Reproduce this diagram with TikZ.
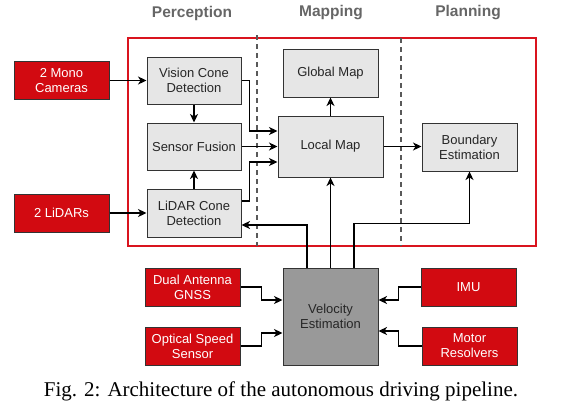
\documentclass[tikz,border=0pt]{standalone}
\usepackage{fontspec}
\setmainfont{Liberation Sans}
\newfontfamily\capfont{Liberation Serif}
\usetikzlibrary{arrows.meta}
\definecolor{boxred}{HTML}{D20A11}
\definecolor{framered}{HTML}{D9141E}
\definecolor{boxgray}{HTML}{E6E6E6}
\definecolor{velgray}{HTML}{999999}
\definecolor{headgray}{HTML}{666666}
\tikzset{
  blk/.style={draw=black!80, line width=1pt, minimum width=95pt, minimum height=47pt,
    align=center, font=\fontsize{13}{15}\selectfont, inner sep=1pt},
  grayblk/.style={blk, fill=boxgray, text=black!85},
  redblk/.style={blk, fill=boxred, text=white, minimum height=38pt},
  velblk/.style={blk, fill=velgray, text=black!85},
  conn/.style={line width=1.8pt, -{Stealth[length=8.5pt,width=8pt,inset=2.5pt]}},
  sep/.style={draw=black!65, line width=1.2pt, dash pattern=on 5pt off 4pt},
  head/.style={font=\bfseries\fontsize{15.5}{17}\selectfont, text=headgray}
}
\begin{document}
\begin{tikzpicture}[x=1pt,y=-1pt]
\useasboundingbox (0,0) rectangle (561,415);
% frame and separators
\draw[framered, line width=2.3pt] (128,38) rectangle (536,246);
\draw[sep] (257,35) -- (257,246);
\draw[sep] (401,38) -- (401,246);
\node[head] (hp) at (192,13) {Perception};
\node[head] (hm) at (331,13) {Mapping};
\node[head] (hpl) at (468,13) {Planning};
% nodes
\node[redblk] (cam) at (61.5,80.5) {2 Mono\\Cameras};
\node[redblk] (lid) at (61.5,213) {2 LiDARs};
\node[grayblk, minimum width=94pt] (vis) at (194,80.5) {Vision Cone\\Detection};
\node[grayblk, minimum width=94pt] (fus) at (194,146.5) {Sensor Fusion};
\node[grayblk, minimum width=94pt, minimum height=48pt] (lcd) at (194,213) {LiDAR Cone\\Detection};
\node[grayblk, minimum width=105pt, minimum height=61pt] (loc) at (330.5,146.5) {Local Map};
\node[grayblk, minimum height=48pt] (glob) at (330.5,73) {Global Map};
\node[grayblk, minimum height=48pt] (bnd) at (469.5,147) {Boundary\\Estimation};
\node[velblk, minimum height=97pt] (vel) at (330.5,316.5) {Velocity\\Estimation};
\node[redblk] (gnss) at (192.5,287) {Dual Antenna\\GNSS};
\node[redblk] (opt) at (192.5,346) {Optical Speed\\Sensor};
\node[redblk] (imu) at (468.5,287) {IMU};
\node[redblk] (mot) at (469.5,346) {Motor\\Resolvers};
% connectors
\draw[conn] (cam.east) -- (vis.west);
\draw[conn] (lid.east) -- (lcd.west);
\draw[conn] (vis.south) -- (fus.north);
\draw[conn] (lcd.north) -- (fus.south);
\draw[conn] (vis.east) -- ++(8,0) |- ([yshift=15.5pt]loc.west);
\draw[conn] (fus.east) -- (loc.west);
\draw[conn] ([yshift=12pt]lcd.east) -- ++(8,0) |- ([yshift=-15.5pt]loc.west);
\draw[conn] (loc.north) -- (glob.south);
\draw[conn] (loc.east) -- (bnd.west |- loc.east);
\draw[conn] ([xshift=-23.5pt]vel.north) |- ([yshift=-12pt]lcd.east);
\draw[conn] (vel.north) -- (loc.south);
\draw[conn] ([xshift=23.5pt]vel.north) -- ++(0,-44) -| (bnd.south);
\draw[conn] (gnss.east) -- ++(21,0) |- ([yshift=16.5pt]vel.west);
\draw[conn] (opt.east) -- ++(21,0) |- ([yshift=-16.5pt]vel.west);
\draw[conn] (imu.west) -- ++(-22,0) |- ([yshift=16.5pt]vel.east);
\draw[conn] (mot.west) -- ++(-23,0) |- ([yshift=-14.5pt]vel.east);
% caption
\node[font=\capfont\fontsize{21}{24}\selectfont, anchor=base] (cap) at (281,396) {Fig. 2: Architecture of the autonomous driving pipeline.};
\end{tikzpicture}
\end{document}
